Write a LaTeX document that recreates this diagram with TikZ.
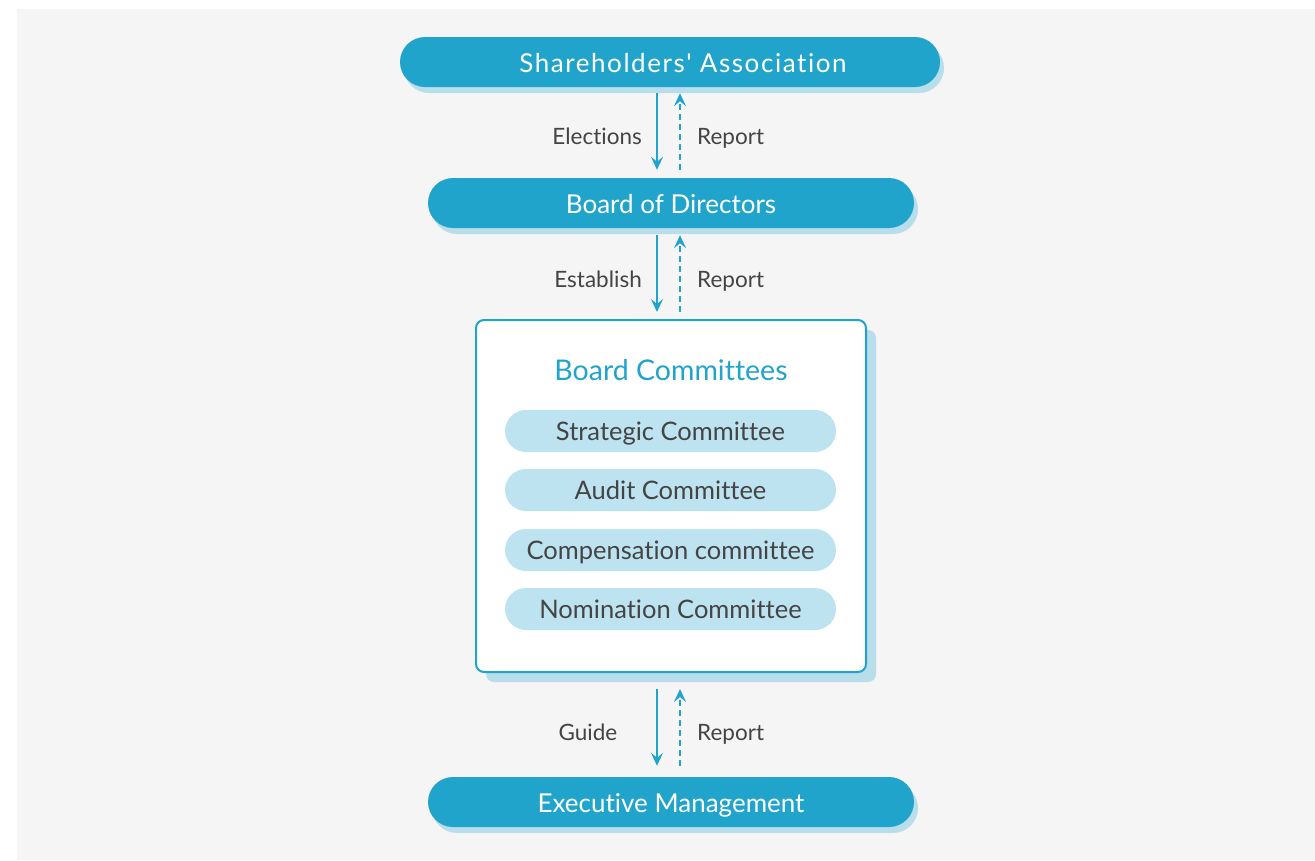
\documentclass[tikz,border=0pt]{standalone}
\usepackage{fontspec}
\setmainfont{Lato}[Ligatures=NoCommon]
\newfontfamily\spacedfont{Lato}[LetterSpace=6,Ligatures=NoCommon]
\usetikzlibrary{arrows.meta,shadows}
\definecolor{bgc}{HTML}{F5F5F5}
\definecolor{mainblue}{HTML}{21A4CB}
\definecolor{shadowblue}{HTML}{B8DDEB}
\definecolor{subblue}{HTML}{BDE3F0}
\definecolor{txtgray}{HTML}{444444}
\tikzset{
  pill/.style={rectangle, rounded corners=25pt, fill=mainblue, text=white,
    minimum height=50pt, inner sep=0pt, font=\fontsize{26}{30}\selectfont,
    text height=21.7pt, text depth=0pt,
    drop shadow={shadow xshift=4pt, shadow yshift=-6pt, fill=shadowblue, opacity=1}},
  panel/.style={rectangle, rounded corners=8pt, fill=white, draw=mainblue, line width=2pt,
    minimum width=390pt, minimum height=352pt, inner sep=0pt,
    drop shadow={shadow xshift=10pt, shadow yshift=-10pt, fill=shadowblue, opacity=1}},
  subpill/.style={rectangle, rounded corners=21pt, fill=subblue, text=txtgray,
    minimum width=331pt, minimum height=42pt, inner sep=0pt, font=\fontsize{25.5}{28}\selectfont,
    text height=18.3pt, text depth=0pt},
  title/.style={text=mainblue, font=\fontsize{28.5}{32}\selectfont, inner sep=0pt,
    text height=20.4pt, text depth=0pt},
  lbl/.style={text=txtgray, font=\fontsize{22.5}{26}\selectfont, inner sep=0pt,
    text height=16.1pt, text depth=0pt},
  downarrow/.style={draw=mainblue, line width=2pt, -{Stealth[length=13pt,width=12pt,inset=5pt]}},
  uparrow/.style={draw=mainblue, line width=2pt, dash pattern=on 6pt off 4pt, -{Stealth[length=13pt,width=12pt,inset=5pt]}},
}
\begin{document}
\begin{tikzpicture}[x=1pt,y=-1pt]
\useasboundingbox (0,0) rectangle (1315,860);
\fill[white] (0,0) rectangle (1315,860);
\fill[bgc] (17,9) rectangle (1315,860);

\node[pill, minimum width=540pt] (sh) at (670,62) {\hspace*{26pt}{\spacedfont Shareholders' Association}};
\node[pill, minimum width=486pt] (bod) at (671,203) {Board of Directors};
\node[panel] (bc) at (671,496) {};
\node[title] (bct) at (671,370) {Board Committees};
\node[subpill] (s1) at (670.5,431) {Strategic Committee};
\node[subpill] (s2) at (670.5,490) {Audit Committee};
\node[subpill] (s3) at (670.5,550) {Compensation committee};
\node[subpill] (s4) at (670.5,609) {Nomination Committee};
\node[pill, minimum width=486pt] (em) at (671,802) {Executive Management};

% arrows 1
\draw[downarrow, shorten <=6pt, shorten >=8pt] ([xshift=-13pt]sh.south) -- ([xshift=-14pt]bod.north);
\draw[uparrow, shorten <=8pt, shorten >=6pt] ([xshift=9pt]bod.north) -- ([xshift=10pt]sh.south);
\node[lbl, anchor=east] (l1) at (642,136) {Elections};
\node[lbl, anchor=west] (r1) at (697,136) {Report};

% arrows 2
\draw[downarrow, shorten <=7pt, shorten >=7pt] ([xshift=-14pt]bod.south) -- ([xshift=-14pt]bc.north);
\draw[uparrow, shorten <=7pt, shorten >=7pt] ([xshift=9pt]bc.north) -- ([xshift=9pt]bod.south);
\node[lbl, anchor=east] (l2) at (642,279.5) {Establish};
\node[lbl, anchor=west] (r2) at (697,279.5) {Report};

% arrows 3
\draw[downarrow, shorten <=16pt, shorten >=11pt] ([xshift=-14pt]bc.south) -- ([xshift=-14pt]em.north);
\draw[uparrow, shorten <=11pt, shorten >=16pt] ([xshift=9pt]em.north) -- ([xshift=9pt]bc.south);
\node[lbl] (l3) at (588,732.5) {Guide};
\node[lbl, anchor=west] (r3) at (697,732.5) {Report};
\end{tikzpicture}
\end{document}
